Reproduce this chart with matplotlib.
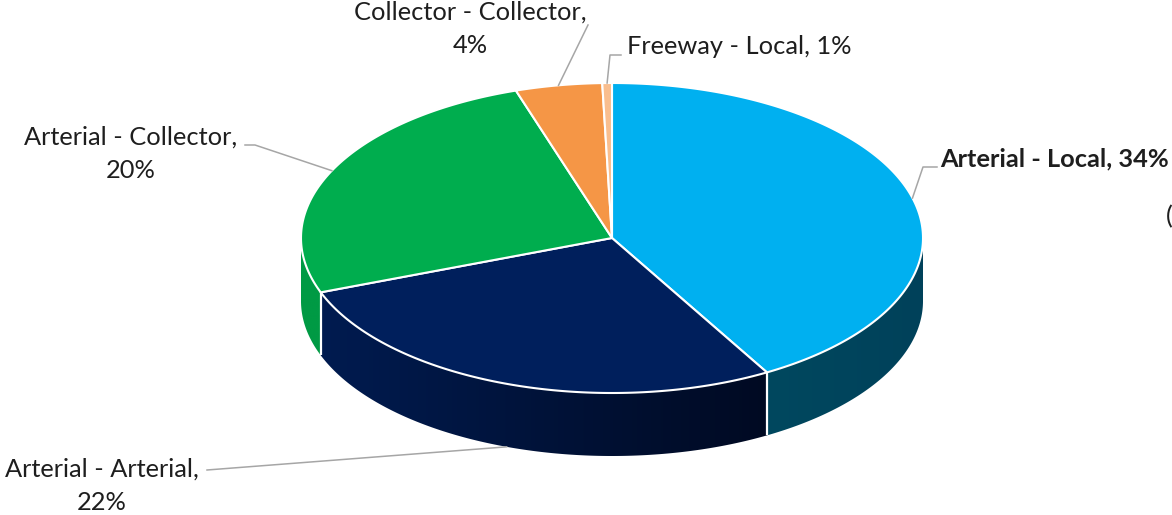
import numpy as np
import matplotlib
matplotlib.use('Agg')
import matplotlib.pyplot as plt
from matplotlib.patches import Polygon
from matplotlib.colors import to_rgb

# ---------------- data ----------------
categories = ['Arterial - Local', 'Arterial - Arterial', 'Arterial - Collector',
              'Collector - Collector', 'Freeway - Local']
slice_share = [41.7, 27.6, 25.7, 4.5, 0.5]      # slice sizes as drawn
label_pct = [34, 22, 20, 4, 1]                  # percentages printed in labels

# ---------------- style ----------------
top_colors = ['#00B0F0', '#001F5C', '#00AD4E', '#F59646', '#F9BE8E']
side_left = ['#00485F', '#001B50', '#009A44', '#D9823A', '#E0A87C']
side_right = ['#00415A', '#000A22', '#009A44', '#D9823A', '#E0A87C']
text_color = '#1E1E1E'
leader_color = '#A6A6A6'
FONT = ['Lato', 'DejaVu Sans']
FS = 18.3

W, H = 1172, 515
cx, cy, a, b, depth = 612, 238, 311, 155, 63

fig = plt.figure(figsize=(W / 100, H / 100), dpi=100)
ax = fig.add_axes([0, 0, 1, 1])
ax.axis('off')

vals = np.array(slice_share, dtype=float)
frac = vals / vals.sum()
edges = 90 - 360 * np.concatenate([[0], np.cumsum(frac)])


def pt(t, dz=0.0):
    r = np.radians(t)
    return cx + a * np.cos(r), cy - b * np.sin(r) + dz


def arc(t0, t1, n=200, dz=0.0):
    ts = np.linspace(t0, t1, n)
    r = np.radians(ts)
    return np.column_stack([cx + a * np.cos(r), cy - b * np.sin(r) + dz])


# ---- side walls (front half only) ----
for i in range(len(vals)):
    t0, t1 = edges[i], edges[i + 1]          # t0 > t1 (clockwise)
    for lo, hi in [(-180, 0), (-540, -360)]:
        s0, s1 = min(t0, hi), max(t1, lo)
        if s0 <= s1:
            continue
        top = arc(s0, s1)
        bot = arc(s1, s0, dz=depth)
        poly = Polygon(np.vstack([top, bot]), closed=True, facecolor='none',
                       edgecolor='none')
        ax.add_patch(poly)
        xs = np.concatenate([top[:, 0], bot[:, 0]])
        ys = np.concatenate([top[:, 1], bot[:, 1]])
        x0, x1 = xs.min(), xs.max()
        n = 256
        c0, c1 = np.array(to_rgb(side_left[i])), np.array(to_rgb(side_right[i]))
        w = np.linspace(0, 1, n)[:, None]
        grad = (c0 * (1 - w) + c1 * w)[None, :, :]
        im = ax.imshow(grad, extent=(x0 - 1, x1 + 1, ys.max() + 1, ys.min() - 1),
                       aspect='auto', interpolation='bilinear', zorder=1)
        im.set_clip_path(poly)

# white separators on the side at slice boundaries
for t in edges:
    tt = ((t + 180) % 360) - 180
    if -180 < tt < 0:
        x, y = pt(tt)
        ax.plot([x, x], [y, y + depth], color='white', lw=1.6, zorder=2,
                solid_capstyle='butt')

# ---- top wedges ----
for i in range(len(vals)):
    pts = np.vstack([[cx, cy], arc(edges[i], edges[i + 1])])
    ax.add_patch(Polygon(pts, closed=True, facecolor=top_colors[i],
                         edgecolor='white', lw=1.5, joinstyle='round', zorder=3))

# ---- labels ----
mids = (edges[:-1] + edges[1:]) / 2
anchors = []
for m in mids:
    x, y = pt(m)
    if np.sin(np.radians(m)) < 0:
        y += depth
    anchors.append((x, y))

# layout: (text x, text y, ha, leader path points (excluding anchor), bold)
layout = [
    (940, 159, 'left', [(923, 167), (937, 167)], True),
    (102, 486, 'center', [(207, 470)], False),
    (131, 154, 'center', [(255, 145), (245, 145)], False),
    (470, 29, 'center', [(588, 25)], False),
    (627, 47, 'left', [(610, 55), (621, 55)], False),
]

for i, (tx, ty, ha, path, bold) in enumerate(layout):
    if i == 0 or i == 4:
        s = f'{categories[i]}, {label_pct[i]}%'
    else:
        s = f'{categories[i]},\n{label_pct[i]}%'
    ax.text(tx, ty, s, ha=ha, va='center', fontsize=FS, family=FONT,
            color=text_color, fontweight='bold' if bold else 'normal',
            linespacing=1.55, zorder=5)
    xs = [anchors[i][0]] + [p[0] for p in path]
    ys = [anchors[i][1]] + [p[1] for p in path]
    ax.plot(xs, ys, color=leader_color, lw=1.1, zorder=4)

# partially visible glyph at the right edge
ax.text(1166, 217, '(', ha='left', va='center', fontsize=FS, family=FONT,
        color=text_color, zorder=5)

ax.set_xlim(0, W)
ax.set_ylim(H, 0)
fig.savefig('out.png', dpi=100, facecolor='white')
